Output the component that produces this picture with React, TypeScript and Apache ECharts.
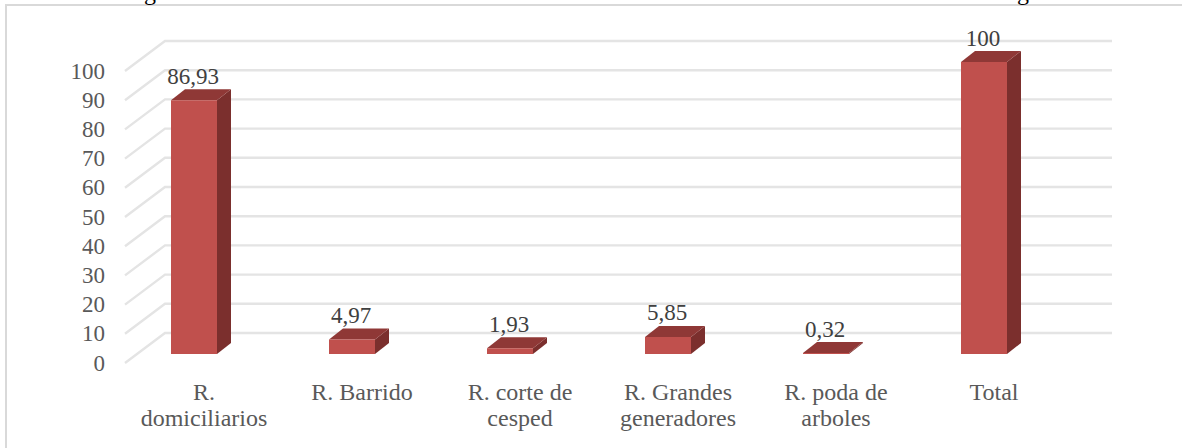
import React, { useEffect, useRef } from "react";
import * as echarts from "echarts";

const categories = ["R.\ndomiciliarios", "R. Barrido", "R. corte de\ncesped", "R. Grandes\ngeneradores", "R. poda de\narboles", "Total"];
const values = [86.93, 4.97, 1.93, 5.85, 0.32, 100];
const gridTicks = [0, 10, 20, 30, 40, 50, 60, 70, 80, 90, 100];

const FONT = '"Liberation Serif", "Times New Roman", serif';

export default function App() {
  const ref = useRef<HTMLDivElement>(null);
  useEffect(() => {
    document.body.style.margin = "0";
    const chart = echarts.init(ref.current!, undefined, { renderer: "svg" });
    chart.setOption({
      animation: false,
      backgroundColor: "#ffffff",
      grid: { left: 125, right: 109, top: 71, bottom: 85 },
      xAxis: {
        type: "category",
        data: categories,
        axisLine: { show: false },
        axisTick: { show: false },
        axisLabel: { color: "#595959", fontFamily: FONT, fontSize: 24, lineHeight: 26, margin: 16, interval: 0 },
      },
      yAxis: {
        type: "value",
        min: 0,
        max: 100,
        interval: 10,
        axisLine: { show: false },
        axisTick: { show: false },
        splitLine: { show: false },
        axisLabel: { color: "#595959", fontFamily: FONT, fontSize: 23, margin: 20, padding: [2, 0, 0, 0] },
      },
      graphic: [
        { type: "polyline", silent: true, shape: { points: [[6, 448], [6, 5], [1182, 5]] }, style: { fill: "none", stroke: "#d9d9d9", lineWidth: 2 } },
        { type: "text", silent: true, x: 150, y: 4, style: { text: "g", fill: "#000000", font: `24px ${FONT}`, align: "center", verticalAlign: "bottom" } },
        { type: "text", silent: true, x: 1023, y: 4, style: { text: "g", fill: "#000000", font: `24px ${FONT}`, align: "center", verticalAlign: "bottom" } },
      ],
      series: [
        {
          type: "custom",
          clip: false,
          z: 1,
          silent: true,
          data: gridTicks.map((t) => [0, t]),
          encode: { x: 0, y: 1 },
          renderItem: (params: any, api: any) => {
            const cs = params.coordSys;
            const y = api.coord([0, api.value(1)])[1];
            return {
              type: "polyline",
              shape: { points: [[cs.x, y], [cs.x + 40, y - 30], [cs.x + cs.width + 39, y - 30]] },
              style: { fill: "none", stroke: "#e4e4e4", lineWidth: 2.4 },
            };
          },
        },
        {
          type: "custom",
          clip: false,
          z: 2,
          silent: true,
          data: values.map((v, i) => [i, v]),
          encode: { x: 0, y: 1 },
          renderItem: (_params: any, api: any) => {
            const [cx, yTop] = api.coord([api.value(0), api.value(1)]);
            const yBase = api.coord([0, 0])[1] - 9;
            const top = yTop - 9;
            const l = cx - 33;
            const r = cx + 13;
            const dx = 14;
            const dy = -11;
            return {
              type: "group",
              children: [
                { type: "polygon", shape: { points: [[r, yBase], [r + dx, yBase + dy], [r + dx, top + dy], [r, top]] }, style: { fill: "#7b2f2d" } },
                { type: "polygon", shape: { points: [[l, top], [l + dx, top + dy], [r + dx, top + dy], [r, top]] }, style: { fill: "#8f3836" } },
                { type: "rect", shape: { x: l, y: top, width: r - l, height: yBase - top }, style: { fill: "#c0504d" } },
                {
                  type: "text",
                  x: cx - 11,
                  y: top - 24,
                  style: {
                    text: String(api.value(1)).replace(".", ","),
                    fill: "#404040",
                    font: `23px ${FONT}`,
                    align: "center",
                    verticalAlign: "middle",
                  },
                },
              ],
            };
          },
        },
      ],
    });
    return () => chart.dispose();
  }, []);
  return <div ref={ref} style={{ width: 1182, height: 448 }} />;
}
